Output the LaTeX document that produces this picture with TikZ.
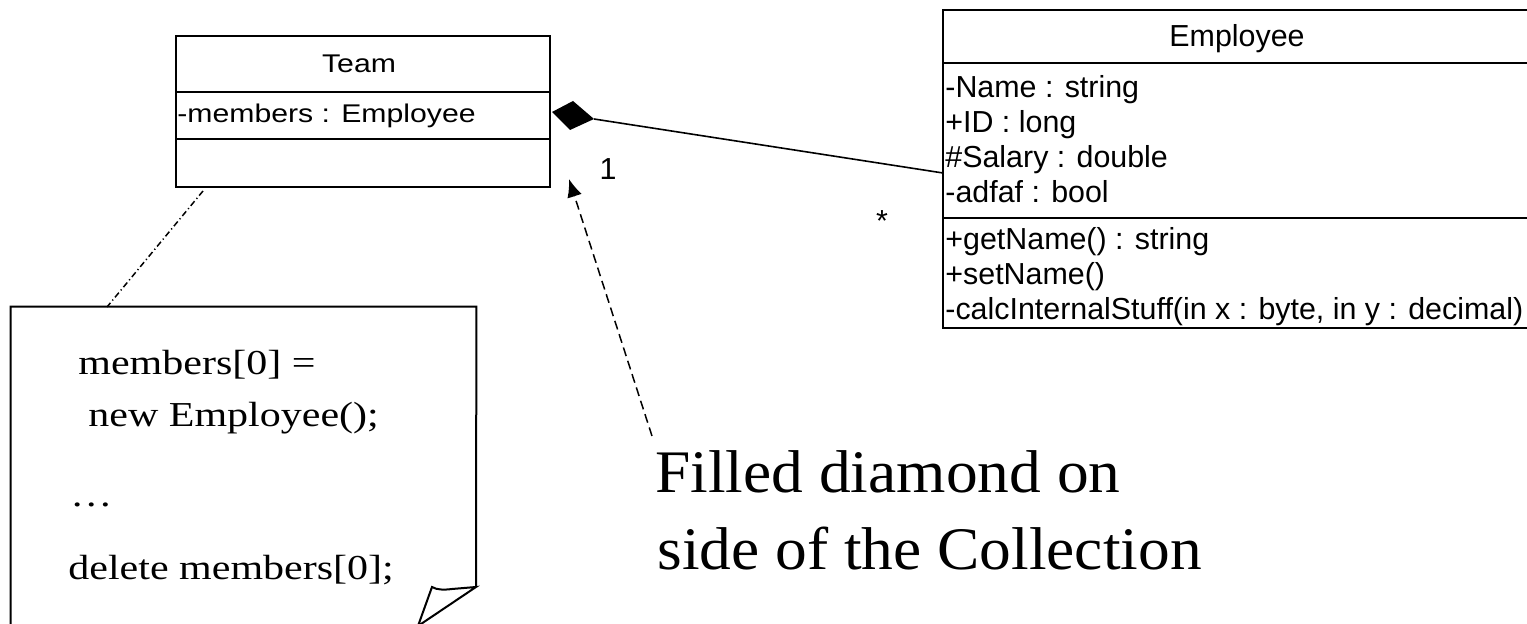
\documentclass[tikz,border=0pt]{standalone}
\usepackage{fontspec}
\setmainfont{Liberation Serif}
\setsansfont{Liberation Sans}
\usepackage{graphicx}
\usetikzlibrary{fit,arrows.meta}

\begin{document}
\begin{tikzpicture}[x=0.5pt,y=-0.5pt,
  box/.style={draw,line width=1pt,inner sep=0pt},
  sep/.style={line width=1pt},
  member/.style={font=\sffamily\fontsize{15.2}{18}\selectfont,inner sep=0pt,anchor=base west},
  title/.style={font=\sffamily\fontsize{15.2}{18}\selectfont,inner sep=0pt,anchor=base},
  teamtxt/.style={font=\sffamily\fontsize{12.8}{15}\selectfont,inner sep=0pt},
  mult/.style={font=\sffamily\fontsize{15.2}{18}\selectfont,inner sep=0pt,anchor=base},
  code/.style={font=\fontsize{17.5}{21}\selectfont,inner sep=0pt,anchor=base west},
  remark/.style={font=\fontsize{30.2}{36}\selectfont,inner sep=0pt,anchor=base west},
  link/.style={line width=0.8pt},
  anchorline/.style={line width=0.75pt,dash pattern=on 3pt off 1.5pt on 0.6pt off 1.5pt},
  pointer/.style={line width=0.75pt,dash pattern=on 4.5pt off 2.5pt,-{Latex[length=9pt,width=7.5pt]}}
]
\useasboundingbox (0,0) rectangle (1527,624);

% ---- class Team ----
\node[box,fit={(176,36) (550,187)}] (team) {};
\draw[sep] (team.west |- 0,92) -- (team.east |- 0,92);
\draw[sep] (team.west |- 0,139) -- (team.east |- 0,139);
\node[teamtxt,anchor=base] (teamname) at (359,73) {\scalebox{1.18}[1]{Team}};
\node[teamtxt,anchor=base west] (teamattr) at (177,123) {\scalebox{1.18}[1]{-members : Employee}};

% ---- class Employee ----
\node[box,fit={(943,10) (1530,328)}] (emp) {};
\draw[sep] (emp.west |- 0,63) -- (emp.east |- 0,63);
\draw[sep] (emp.west |- 0,218) -- (emp.east |- 0,218);
\node[title] (empname) at (1237,47) {Employee};
\node[member] (a1) at (945,98)  {-Name : string};
\node[member] (a2) at (945,133) {+ID : long};
\node[member] (a3) at (945,168) {\#Salary : double};
\node[member] (a4) at (945,203) {-adfaf : bool};
\node[member] (o1) at (945,250) {+getName() : string};
\node[member] (o2) at (945,285) {+setName()};
\node[member] (o3) at (945,320) {-calcInternalStuff(in x : byte, in y : decimal)};

% ---- composition: filled diamond at the Team end ----
\coordinate (dL) at (552,112);
\coordinate (dT) at (573,101);
\coordinate (dR) at (594,119);
\coordinate (dB) at (570,130);
\fill (dL) -- (dT) -- (dR) -- (dB) -- cycle;
\coordinate (empIn) at (943,173);
\draw[link] (dR) -- (empIn);
\node[mult] (m1) at (608,180) {1};
\node[mult] (m2) at (882,232) {*};

% ---- note with folded corner ----
\node[inner sep=0pt,fit={(11,307) (476,640)}] (note) {};
\coordinate (fold) at (476,587);
\coordinate (foldL) at (432,587);
\coordinate (foldB) at (418,626);
\draw[line width=1pt] (fold) -- (note.north east) -- (note.north west) -- (note.south west);
\draw[line width=1pt,line join=miter] (foldB) -- (foldL) .. controls (437,590) and (444,590) .. (452,589) -- (fold) -- cycle;
\node[code] (c1) at (78,375)  {\scalebox{1.2}[1]{members[0] =}};
\node[code] (c2) at (88,427)  {\scalebox{1.2}[1]{new Employee();}};
\node[code] (c3) at (70,507)  {\scalebox{1.2}[1]{…}};
\node[code] (c4) at (68,580)  {\scalebox{1.2}[1]{delete members[0];}};
\coordinate (teamFoot) at (203,191);
\coordinate (noteHead) at (107,307);
\draw[anchorline] (teamFoot) -- (noteHead);

% ---- remark and its pointer ----
\node[remark] (r1) at (655,493) {\scalebox{1.05}[1]{Filled diamond on}};
\node[remark] (r2) at (657,570) {\scalebox{1.05}[1]{side of the Collection}};
\coordinate (tailA) at (652,436);
\coordinate (tipA) at (569,179);
\draw[pointer] (tailA) -- (tipA);
\end{tikzpicture}
\end{document}
